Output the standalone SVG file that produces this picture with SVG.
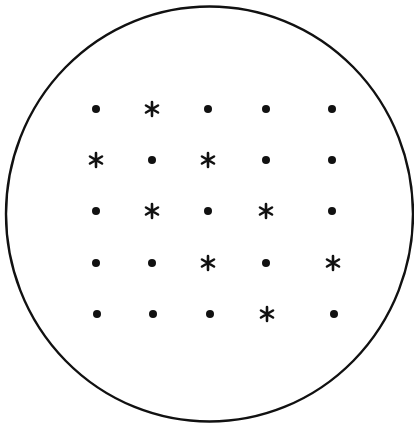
<svg xmlns="http://www.w3.org/2000/svg" xmlns:xlink="http://www.w3.org/1999/xlink" width="414" height="424" viewBox="0 0 414 424">
<style>
.ring{fill:none;stroke:#111;stroke-width:2.4}
.dot{fill:#111}
.ast{stroke:#111;stroke-width:2.6;stroke-linecap:round;fill:none}
</style>
<defs>
<circle id="d" class="dot" r="4"/>
<path id="a" class="ast" d="M0,-7V7M-6,-3.5L6,3.5M-6,3.5L6,-3.5"/>
</defs>
<rect width="414" height="424" fill="#fff"/>
<g id="circle"><ellipse class="ring" cx="209.5" cy="214" rx="203.5" ry="207.5"/></g>
<g id="row1">
<use href="#d" x="96" y="109"/><use href="#a" x="152" y="109"/><use href="#d" x="208" y="109"/><use href="#d" x="266" y="109"/><use href="#d" x="332" y="109"/>
</g>
<g id="row2">
<use href="#a" x="96" y="160"/><use href="#d" x="152" y="160"/><use href="#a" x="208" y="160"/><use href="#d" x="266" y="160"/><use href="#d" x="332" y="160"/>
</g>
<g id="row3">
<use href="#d" x="96" y="211"/><use href="#a" x="152" y="211"/><use href="#d" x="208" y="211"/><use href="#a" x="266" y="211"/><use href="#d" x="332" y="211"/>
</g>
<g id="row4">
<use href="#d" x="96" y="263"/><use href="#d" x="152" y="263"/><use href="#a" x="208" y="263"/><use href="#d" x="266" y="263"/><use href="#a" x="333" y="263"/>
</g>
<g id="row5">
<use href="#d" x="97" y="314"/><use href="#d" x="153" y="314"/><use href="#d" x="210" y="314"/><use href="#a" x="267" y="314"/><use href="#d" x="334" y="314"/>
</g>
</svg>
